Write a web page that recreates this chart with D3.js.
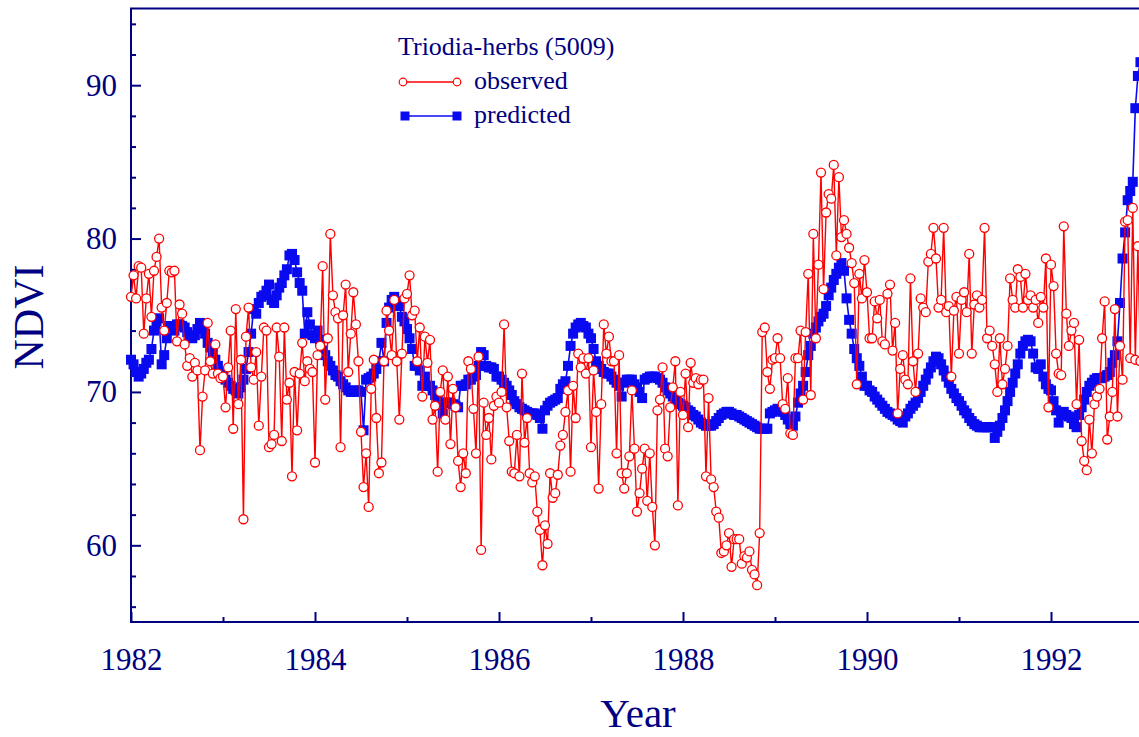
<!DOCTYPE html>
<html><head><meta charset="utf-8">
<script src="https://cdn.jsdelivr.net/npm/d3@7"></script>
<style>html,body{margin:0;padding:0;background:#fff;overflow:hidden}</style>
</head><body>
<svg id="c" width="1139" height="737"></svg>
<script>
// ---- data (dekadal composites, 36 per year, starting 1982.0) ----
const startYear = 1982;
const perYear = 36;

const observed = [
  // 1982
  76.2,77.6,76.1,78.2,78.1,73.8,76.1,77.7,74.9,77.9,78.8,80.0,75.5,74.0,75.8,77.9,77.8,77.9,73.3,75.7,75.1,73.1,71.7,72.2,71.0,71.9,71.4,66.2,69.7,71.4,74.5,72.0,71.2,73.1,71.2,70.9,
  // 1983
  71.0,69.0,71.6,74.0,67.6,75.4,69.2,72.1,61.7,73.6,75.5,71.6,70.8,72.6,67.8,71.0,74.2,74.0,66.4,66.6,67.2,74.2,72.3,66.8,74.2,69.5,70.6,64.5,71.3,67.5,71.2,73.2,70.7,72.0,71.5,71.3,
  // 1984
  65.4,72.4,73.0,78.2,69.5,73.5,80.3,76.3,75.2,74.8,66.4,75.0,77.0,71.3,73.8,76.5,74.4,72.0,67.4,63.8,66.0,62.5,70.2,72.1,68.3,64.7,65.4,72.0,75.3,74.0,72.4,76.0,72.0,68.2,72.5,76.1,
  // 1985
  76.4,77.6,75.0,75.3,72.0,74.2,69.7,73.6,71.9,73.4,68.2,69.1,64.8,70.0,71.4,68.2,71.0,66.6,70.2,69.0,65.5,63.8,66.0,64.7,72.0,71.5,68.9,66.0,72.3,59.7,69.3,67.2,68.3,65.6,69.1,69.7,
  // 1986
  69.3,70.0,74.4,69.0,66.8,64.8,64.7,67.2,64.5,71.2,66.7,68.3,64.7,64.1,64.5,62.2,61.0,58.7,61.3,60.1,64.7,63.1,63.4,64.6,66.5,67.2,68.7,70.1,64.8,70.4,68.3,72.5,71.6,72.2,71.2,72.2,
  // 1987
  66.4,71.4,68.7,63.7,69.2,74.4,72.5,73.6,72.0,72.0,66.0,72.4,64.7,63.7,64.7,65.8,70.1,66.3,62.2,63.4,65.0,66.3,62.9,66.0,62.5,60.0,68.8,69.5,71.6,66.3,65.8,69.0,70.3,72.0,62.6,70.0,
  // 1988
  68.5,71.2,67.7,71.9,70.6,70.9,70.5,70.8,70.8,64.5,69.6,64.3,63.8,62.2,61.8,59.5,59.6,60.0,60.8,58.6,60.4,60.4,60.4,58.8,59.3,59.2,59.6,58.4,58.1,57.4,60.8,73.9,74.2,71.3,70.2,72.1,
  // 1989
  72.2,73.5,72.2,69.2,68.9,70.9,67.3,67.2,72.2,72.2,74.0,69.5,73.9,77.7,69.8,80.3,73.5,78.3,84.3,76.7,81.7,82.9,82.6,84.8,78.9,84.0,80.1,81.2,80.3,79.4,78.4,77.1,70.5,77.7,76.1,78.6,
  // 1990
  76.5,73.5,73.5,75.9,74.8,76.0,73.3,73.1,76.4,77.0,72.7,74.5,68.6,71.5,72.4,70.8,70.5,77.4,72.0,70.0,72.5,76.1,75.5,75.2,78.5,79.0,80.7,78.7,75.5,76.0,80.7,75.2,75.6,71.0,75.3,76.2,
  // 1991
  72.5,76.0,76.5,75.2,79.0,72.5,75.7,76.3,75.5,76.0,80.7,73.5,74.0,73.0,71.8,70.0,73.5,70.5,71.5,73.0,77.4,76.0,75.5,78.0,77.5,75.5,77.7,76.0,76.3,75.5,76.0,74.5,76.2,75.5,78.7,69.0,
  // 1992
  78.3,76.9,72.5,71.2,71.1,80.8,75.1,73.0,74.0,74.5,69.2,73.4,66.8,65.5,64.9,68.2,66.0,69.2,69.7,70.2,73.5,75.9,66.9,68.4,70.0,75.4,68.4,73.0,70.8,81.1,81.2,72.2,82.0,72.1,79.5,72.0
];

const predicted = [
  // 1982
  72.1,71.8,71.3,71.0,71.2,71.5,71.9,72.1,72.8,74.0,74.6,74.8,71.8,72.4,73.5,74.3,74.2,74.0,74.4,74.4,74.3,74.2,73.9,73.6,73.5,73.7,74.1,74.5,74.2,73.8,73.2,72.9,72.5,72.1,71.7,71.3,
  // 1983
  71.0,70.8,70.6,70.4,70.2,70.1,69.9,70.3,70.8,71.5,72.6,73.8,75.4,75.1,75.8,76.2,76.3,76.6,77.0,76.0,75.8,76.3,76.8,77.1,77.6,78.0,78.9,79.0,78.6,77.8,77.1,76.6,73.8,75.2,74.4,73.7,
  // 1984
  73.5,74.0,73.4,72.7,72.4,72.0,71.7,71.4,71.1,71.0,70.7,70.5,70.3,70.1,70.0,70.0,70.1,70.1,70.0,67.5,70.8,70.9,71.0,71.2,71.5,72.0,73.2,72.0,74.5,75.5,76.0,76.2,75.9,75.6,74.9,74.6,
  // 1985
  74.1,73.5,72.8,71.7,71.7,71.4,70.4,71.0,70.4,70.4,70.1,69.8,69.5,69.2,68.6,69.3,69.3,69.3,69.2,69.1,69.0,70.4,70.4,70.5,70.8,70.8,71.0,71.1,71.7,72.6,72.4,71.7,71.6,71.6,71.5,71.0,
  // 1986
  71.0,70.8,70.6,70.4,70.1,69.8,69.4,69.2,69.0,68.9,68.8,68.7,68.6,68.6,68.6,68.5,68.3,67.6,68.8,69.1,69.3,69.4,69.5,69.6,70.2,70.5,70.7,71.7,73.0,73.8,74.2,74.4,74.5,74.3,74.2,73.8,
  // 1987
  73.5,72.8,72.0,71.7,71.5,71.3,71.2,71.2,71.0,70.8,70.6,70.4,69.7,70.6,70.8,70.8,70.8,70.5,70.3,70.0,69.6,70.8,70.9,71.0,71.0,71.0,70.9,70.8,70.6,70.3,70.1,69.9,69.7,69.5,69.3,69.2,
  // 1988
  69.1,69.0,68.8,68.7,68.5,68.4,68.2,68.0,67.9,67.8,67.8,67.8,67.9,68.1,68.3,68.5,68.6,68.7,68.7,68.6,68.5,68.5,68.4,68.3,68.2,68.1,68.0,67.9,67.8,67.7,67.6,67.6,67.6,67.6,68.6,68.7,
  // 1989
  68.8,68.9,68.8,68.7,68.5,68.2,67.9,67.8,68.4,69.3,69.9,70.4,71.3,72.4,73.0,73.8,74.2,74.6,74.9,75.1,75.6,76.3,76.8,77.3,77.7,78.1,78.4,77.9,76.1,74.7,73.8,72.8,72.2,71.7,71.0,70.4,
  // 1990
  70.4,70.1,70.0,69.7,69.5,69.3,69.1,68.9,68.7,68.6,68.5,68.4,68.2,68.1,68.0,68.4,68.6,68.9,69.1,69.3,69.6,70.0,70.4,70.8,71.2,71.6,72.0,72.3,72.2,71.8,71.4,71.0,70.6,70.2,69.9,69.6,
  // 1991
  69.4,69.1,68.8,68.6,68.3,68.1,67.9,67.8,67.7,67.7,67.7,67.7,67.7,67.7,67.0,67.4,67.8,68.3,68.8,69.4,70.0,70.6,71.2,71.8,72.5,73.0,73.3,73.4,73.3,72.5,71.6,71.5,71.8,71.0,70.5,70.2,
  // 1992
  70.1,69.4,68.8,68.0,68.5,68.7,68.5,68.4,68.3,67.9,67.7,68.5,69.0,69.5,70.0,70.4,70.6,70.8,70.9,70.9,70.9,71.0,71.1,71.3,71.9,72.4,73.3,75.8,78.7,80.4,82.5,83.1,83.7,88.5,90.6,91.5
];

const xMajorTicks = [1982, 1984, 1986, 1988, 1990, 1992];
const xMinorTicks = [1983, 1985, 1987, 1989, 1991, 1993];
const yMajorTicks = [60, 70, 80, 90];
const yMinorTicks = [56, 58, 62, 64, 66, 68, 72, 74, 76, 78, 82, 84, 86, 88, 92, 94];
const legendTitle = "Triodia-herbs (5009)";
const seriesNames = ["observed", "predicted"];
const xTitle = "Year";
const yTitle = "NDVI";

// ---- drawing ----
const navy = "#000080";
const red = "#ff0000";
const blue = "#0a0af0";
const font = "'Liberation Serif','Times New Roman',Times,serif";

const svg = d3.select("#c");
const x = d3.scaleLinear().domain([1982, 1993]).range([131, 1143]);
const y = d3.scaleLinear().domain([55, 95]).range([622, 8.5]);
const tOf = i => startYear + i / perYear;

// frame
svg.append("rect")
  .attr("x", x(1982)).attr("y", y(95))
  .attr("width", x(1993) - x(1982)).attr("height", y(55) - y(95))
  .attr("fill", "none").attr("stroke", navy).attr("stroke-width", 2);

function styleAxis(g, fs) {
  g.select(".domain").remove();
  g.selectAll(".tick line").attr("stroke", navy).attr("stroke-width", 2);
  g.selectAll(".tick text").attr("fill", navy).style("font-family", font).style("font-size", fs + "px");
}

// x axis
svg.append("g").attr("transform", `translate(0,${y(55)})`)
  .call(d3.axisBottom(x).tickValues(xMajorTicks).tickFormat(d3.format("d")).tickSize(-10).tickPadding(26))
  .call(g => styleAxis(g, 31));
svg.append("g").attr("transform", `translate(0,${y(55)})`)
  .call(d3.axisBottom(x).tickValues(xMinorTicks).tickFormat("").tickSize(-5))
  .call(g => styleAxis(g, 31));

// y axis
svg.append("g").attr("transform", `translate(${x(1982)},0)`)
  .call(d3.axisLeft(y).tickValues(yMajorTicks).tickFormat(d3.format("d")).tickSize(-10).tickPadding(14))
  .call(g => styleAxis(g, 31));
svg.append("g").attr("transform", `translate(${x(1982)},0)`)
  .call(d3.axisLeft(y).tickValues(yMinorTicks).tickFormat("").tickSize(-5))
  .call(g => styleAxis(g, 31));

// axis titles
svg.append("text").attr("x", 638).attr("y", 727).attr("text-anchor", "middle")
  .attr("fill", navy).style("font-family", font).style("font-size", "41px").text(xTitle);
svg.append("text").attr("transform", "translate(43,317) rotate(-90)").attr("text-anchor", "middle")
  .attr("fill", navy).style("font-family", font).style("font-size", "42px").text(yTitle);

// predicted series
const line = d3.line().x((d, i) => x(tOf(i))).y(d => y(d));
const sq = 10;
svg.append("path").datum(predicted).attr("d", line)
  .attr("fill", "none").attr("stroke", blue).attr("stroke-width", 1.6);
svg.append("g").selectAll("rect").data(predicted).join("rect")
  .attr("x", (d, i) => x(tOf(i)) - sq / 2).attr("y", d => y(d) - sq / 2)
  .attr("width", sq).attr("height", sq).attr("fill", blue);

// observed series
svg.append("path").datum(observed).attr("d", line)
  .attr("fill", "none").attr("stroke", red).attr("stroke-width", 1.4);
svg.append("g").selectAll("circle").data(observed).join("circle")
  .attr("cx", (d, i) => x(tOf(i))).attr("cy", d => y(d)).attr("r", 4.5)
  .attr("fill", "#fff").attr("stroke", red).attr("stroke-width", 1.3);

// legend
const lg = svg.append("g");
lg.append("text").attr("x", 398).attr("y", 55).attr("fill", navy)
  .style("font-family", font).style("font-size", "26px").text(legendTitle);
const rows = [{name: seriesNames[0], yy: 82, ty: 89}, {name: seriesNames[1], yy: 116, ty: 123}];
// observed row
lg.append("line").attr("x1", 403).attr("x2", 457).attr("y1", rows[0].yy).attr("y2", rows[0].yy)
  .attr("stroke", red).attr("stroke-width", 1.3);
[403, 457].forEach(cx => lg.append("circle").attr("cx", cx).attr("cy", rows[0].yy).attr("r", 3.8)
  .attr("fill", "#fff").attr("stroke", red).attr("stroke-width", 1.2));
// predicted row
lg.append("line").attr("x1", 405).attr("x2", 457).attr("y1", rows[1].yy).attr("y2", rows[1].yy)
  .attr("stroke", blue).attr("stroke-width", 1.5);
[405, 457].forEach(cx => lg.append("rect").attr("x", cx - 4.5).attr("y", rows[1].yy - 4.5)
  .attr("width", 9).attr("height", 9).attr("fill", blue));
rows.forEach(r => lg.append("text").attr("x", 474).attr("y", r.ty).attr("fill", navy)
  .style("font-family", font).style("font-size", "26px").text(r.name));
</script>
</body></html>
